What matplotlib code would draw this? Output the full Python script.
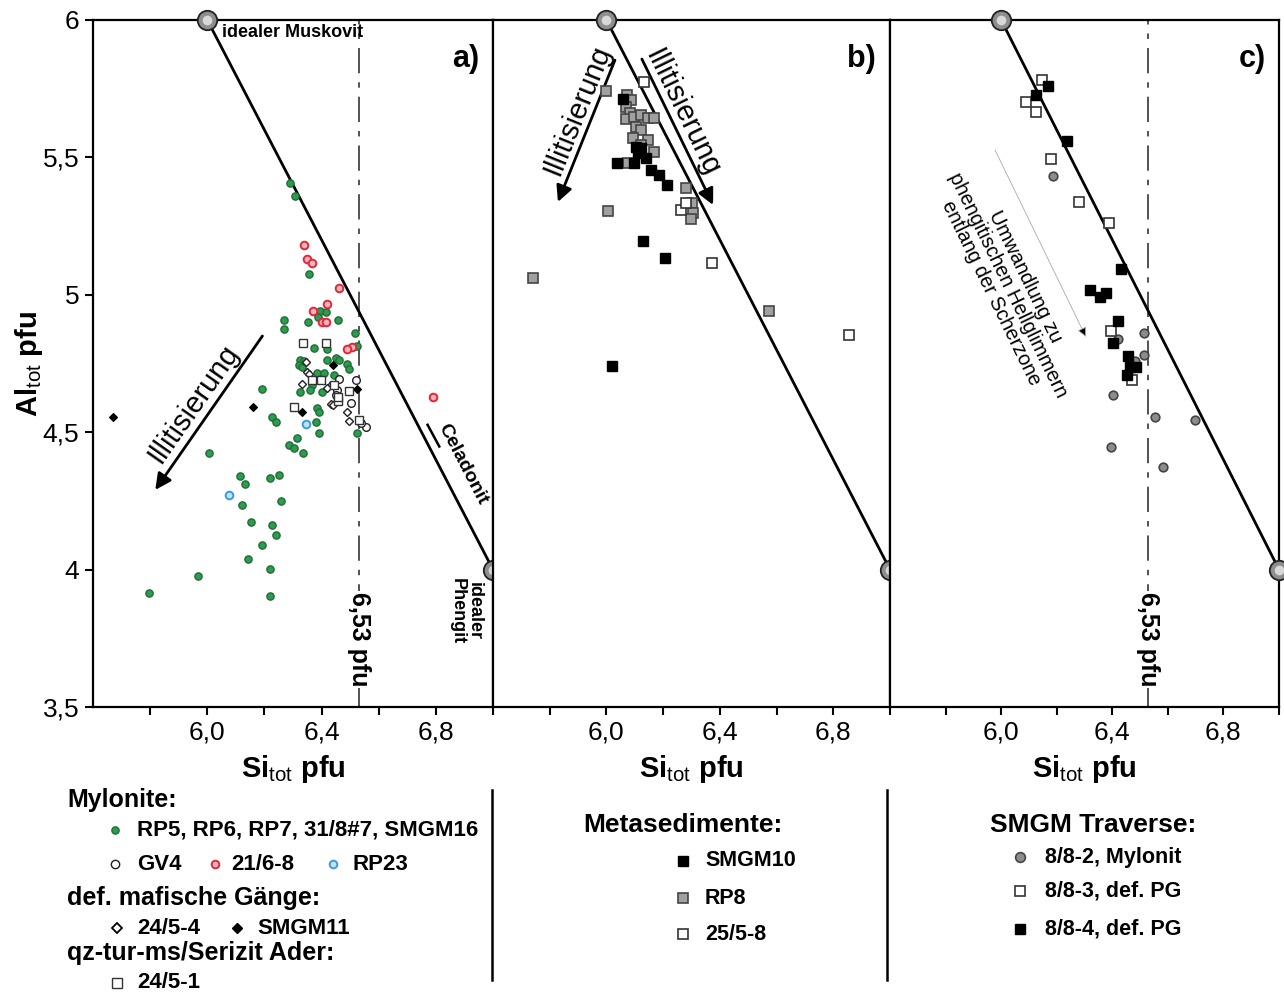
import matplotlib
matplotlib.use('Agg')
import matplotlib.pyplot as plt

plt.rcParams['font.family'] = ['Liberation Sans', 'DejaVu Sans']
plt.rcParams['mathtext.fontset'] = 'custom'
plt.rcParams['mathtext.rm'] = 'Liberation Sans'
plt.rcParams['mathtext.bf'] = 'Liberation Sans:bold'
plt.rcParams['mathtext.it'] = 'Liberation Sans:italic'

# ---------------- data ----------------
# panel a
green_si = [6.291, 6.308, 6.357, 6.393, 6.416, 6.388, 6.457, 6.269, 6.269, 6.353, 6.518, 6.523,
            6.373, 6.420, 6.326, 6.320, 6.420, 6.449, 6.461, 6.488, 6.496, 6.385, 6.408, 6.443,
            6.367, 6.361, 6.326, 6.402, 6.192, 6.385, 6.391, 6.379, 6.391, 6.315, 6.227, 6.239,
            6.525, 6.285, 6.303, 6.335, 6.006, 6.116, 6.132, 6.221, 6.252, 6.120, 6.259, 6.152,
            6.226, 6.242, 6.191, 6.144, 6.219, 5.966, 5.797, 6.219, 6.330, 6.338]
green_al = [5.407, 5.361, 5.076, 4.940, 4.937, 4.920, 4.908, 4.909, 4.876, 4.900, 4.862, 4.814,
            4.805, 4.801, 4.763, 4.744, 4.763, 4.769, 4.763, 4.747, 4.729, 4.714, 4.714, 4.708,
            4.672, 4.654, 4.648, 4.648, 4.657, 4.587, 4.575, 4.538, 4.496, 4.478, 4.557, 4.538,
            4.496, 4.453, 4.441, 4.423, 4.425, 4.342, 4.310, 4.333, 4.345, 4.234, 4.248, 4.174,
            4.161, 4.127, 4.089, 4.037, 4.003, 3.978, 3.916, 3.904, 4.739, 4.760]
red_si = [6.338, 6.350, 6.365, 6.460, 6.420, 6.370, 6.400, 6.414, 6.505, 6.488, 6.790]
red_al = [5.182, 5.129, 5.115, 5.025, 4.967, 4.940, 4.902, 4.900, 4.811, 4.802, 4.627]
blue_si = [6.347, 6.077]
blue_al = [4.530, 4.271]
gv4_si = [6.461, 6.519, 6.437, 6.455, 6.449, 6.502, 6.554, 6.537]
gv4_al = [4.692, 4.690, 4.672, 4.654, 4.635, 4.607, 4.520, 4.532]
d2454_si = [6.344, 6.350, 6.356, 6.332, 6.420, 6.432, 6.441, 6.488, 6.496]
d2454_al = [4.754, 4.720, 4.710, 4.674, 4.660, 4.603, 4.599, 4.575, 4.541]
smgm11_si = [6.441, 6.523, 6.332, 6.160, 5.669]
smgm11_al = [4.744, 4.656, 4.575, 4.593, 4.557]
s2451_si = [6.335, 6.414, 6.365, 6.397, 6.443, 6.497, 6.457, 6.457, 6.303, 6.531]
s2451_al = [4.823, 4.826, 4.690, 4.690, 4.672, 4.650, 4.614, 4.629, 4.593, 4.544]

# panel b
rp8_si = [5.999, 6.072, 6.087, 6.069, 6.083, 6.069, 6.098, 6.122, 6.145, 6.168, 6.104, 6.122,
          6.092, 6.145, 6.122, 6.168, 6.075, 6.280, 6.005, 6.303, 6.307, 6.297, 5.740, 6.574]
rp8_al = [5.743, 5.727, 5.709, 5.685, 5.663, 5.639, 5.648, 5.654, 5.642, 5.642, 5.612, 5.600,
          5.569, 5.563, 5.545, 5.521, 5.478, 5.387, 5.306, 5.333, 5.296, 5.275, 5.060, 4.941]
smgm10_si = [6.057, 6.104, 6.122, 6.139, 6.098, 6.036, 6.157, 6.186, 6.215, 6.128, 6.205, 6.020, 6.112]
smgm10_al = [5.711, 5.539, 5.533, 5.497, 5.481, 5.481, 5.454, 5.436, 5.400, 5.197, 5.133, 4.741, 5.515]
s2558_si = [6.133, 6.262, 6.280, 6.373, 6.855]
s2558_al = [5.776, 5.309, 5.333, 5.115, 4.853]

# panel c
t882_si = [6.185, 6.420, 6.515, 6.515, 6.483, 6.402, 6.553, 6.699, 6.396, 6.581]
t882_al = [5.432, 4.840, 4.862, 4.780, 4.760, 4.635, 4.557, 4.544, 4.447, 4.375]
t883_si = [6.147, 6.090, 6.125, 6.179, 6.279, 6.387, 6.395, 6.472]
t883_al = [5.782, 5.700, 5.666, 5.493, 5.339, 5.260, 4.869, 4.690]
t884_si = [6.167, 6.125, 6.237, 6.431, 6.321, 6.357, 6.377, 6.419, 6.402, 6.456, 6.465, 6.486, 6.453]
t884_al = [5.761, 5.727, 5.560, 5.093, 5.017, 4.991, 5.008, 4.906, 4.823, 4.777, 4.738, 4.738, 4.708]

# end members / reference lines
musk = (6.0, 6.0)
pheng = (7.0, 4.0)
si_limit = 6.53
xticks = [5.8, 6.0, 6.2, 6.4, 6.6, 6.8, 7.0]
xticklabels = ['', '6,0', '', '6,4', '', '6,8', '']
yticks = [3.5, 4.0, 4.5, 5.0, 5.5, 6.0]
yticklabels = ['3,5', '4', '4,5', '5', '5,5', '6']

# ---------------- figure ----------------
W, H = 1284, 992
fig = plt.figure(figsize=(W / 100, H / 100), dpi=100)


def px_axes(x0, x1, y0, y1):
    return [x0 / W, 1 - y1 / H, (x1 - x0) / W, (y1 - y0) / H]


axa = fig.add_axes(px_axes(93, 493, 20, 707))
axb = fig.add_axes(px_axes(493, 890, 20, 707))
axc = fig.add_axes(px_axes(890, 1279, 20, 707))

xlab = r'$\mathbf{Si}_{\mathrm{tot}}\ \mathbf{pfu}$'
for ax, lab in zip([axa, axb, axc], ['a)', 'b)', 'c)']):
    ax.set_xlim(5.6, 7.0)
    ax.set_ylim(3.5, 6.0)
    ax.set_xticks(xticks)
    ax.set_xticklabels(xticklabels, fontsize=19)
    ax.set_yticks(yticks)
    ax.set_yticklabels(yticklabels, fontsize=19)
    ax.tick_params(direction='out', length=6, width=1.5, pad=4)
    for s in ax.spines.values():
        s.set_linewidth(1.6)
    ax.set_xlabel(xlab, fontsize=21, labelpad=6)
    ax.text(0.965, 0.965, lab, transform=ax.transAxes, ha='right', va='top',
            fontsize=22, fontweight='bold')
    if ax is not axa:
        ax.plot([musk[0], pheng[0]], [musk[1], pheng[1]], color='k', lw=2, zorder=3)
    for (bx, by) in [musk, pheng]:
        ax.plot(bx, by, 'o', ms=14, mfc='#8e8e8e', mec='#222222', mew=1.3, clip_on=False, zorder=10)
        ax.plot(bx, by, 'o', ms=7, mfc='#d8d8d8', mec='none', clip_on=False, zorder=11)

axa.set_ylabel(r'$\mathbf{Al}_{\mathrm{tot}}\ \mathbf{pfu}$', fontsize=21)
axa.yaxis.set_label_coords(-0.12, 0.5)
for ax in [axb, axc]:
    ax.tick_params(axis='y', left=False, labelleft=False)

dash = (0, (14, 5, 3, 5))
for ax in [axa, axc]:
    ax.axvline(si_limit, color='#444444', lw=1.3, linestyle=dash, zorder=1)
    ax.text(si_limit, 3.745, '6,53 pfu', rotation=-90, ha='center', va='center',
            fontsize=18, fontweight='bold', zorder=12,
            bbox=dict(facecolor='white', edgecolor='none', pad=1))

# ---- panel a ----
axa.annotate('', xy=(7.085, 3.83), xytext=musk, annotation_clip=False,
             arrowprops=dict(arrowstyle='-|>', lw=2, color='k', mutation_scale=24,
                             shrinkA=0, shrinkB=0), zorder=3)
axa.text(6.053, 5.953, 'idealer Muskovit', ha='left', va='center', fontsize=13, fontweight='bold')
axa.text(6.905, 3.97, 'idealer\nPhengit', rotation=-90, ha='center', va='top',
         fontsize=13, fontweight='bold', linespacing=1.0)
axa.text(6.895, 4.385, 'Celadonit', rotation=-62.6, ha='center', va='center',
         fontsize=14, fontweight='bold')
axa.plot([6.771, 6.812], [4.527, 4.448], color='k', lw=1.8)
axa.annotate('', xy=(5.818, 4.290), xytext=(6.193, 4.850),
             arrowprops=dict(arrowstyle='-|>', lw=2, color='k', mutation_scale=24,
                             shrinkA=0, shrinkB=0))
axa.text(5.951, 4.603, 'Illitisierung', rotation=55, ha='center', va='center', fontsize=21)

mk = dict(ls='none', zorder=5)
axa.plot(green_si, green_al, marker='o', ms=5.2, mfc='#2f9a50', mec='#1d6e36', mew=1.0, **mk)
axa.plot(red_si, red_al, marker='o', ms=5.5, mfc='#f6b3b8', mec='#e0283a', mew=1.4, **mk)
axa.plot(blue_si, blue_al, marker='o', ms=5.5, mfc='#bfe3fb', mec='#3b9be0', mew=1.4, **mk)
axa.plot(gv4_si, gv4_al, marker='o', ms=5.5, mfc='white', mec='#222222', mew=1.0, **mk)
axa.plot(d2454_si, d2454_al, marker='D', ms=4.2, mfc='white', mec='#222222', mew=1.0, **mk)
axa.plot(smgm11_si, smgm11_al, marker='D', ms=4.0, mfc='black', mec='black', mew=0.8, **mk)
axa.plot(s2451_si, s2451_al, marker='s', ms=5.5, mfc='white', mec='#333333', mew=1.0, **mk)

# ---- panel b ----
for (x0, y0, x1, y1) in [(6.030, 5.854, 5.829, 5.338), (6.125, 5.858, 6.376, 5.327)]:
    axb.annotate('', xy=(x1, y1), xytext=(x0, y0),
                 arrowprops=dict(arrowstyle='-|>', lw=2, color='k', mutation_scale=24,
                                 shrinkA=0, shrinkB=0))
axb.text(5.896, 5.672, 'Illitisierung', rotation=68, ha='center', va='center', fontsize=21)
axb.text(6.266, 5.662, 'Illitisierung', rotation=-64, ha='center', va='center', fontsize=21)
axb.plot(rp8_si, rp8_al, marker='s', ms=7.5, mfc='#a0a0a0', mec='#444444', mew=1.2, **mk)
axb.plot(smgm10_si, smgm10_al, marker='s', ms=7.5, mfc='black', mec='black', mew=1.0, **mk)
axb.plot(s2558_si, s2558_al, marker='s', ms=7.5, mfc='white', mec='#333333', mew=1.2, **mk)

# ---- panel c ----
axc.annotate('', xy=(6.305, 4.847), xytext=(5.978, 5.527),
             arrowprops=dict(arrowstyle='-|>', lw=0.6, color='#aaaaaa', mutation_scale=14,
                             shrinkA=0, shrinkB=0, fc='black', ec='#aaaaaa'))
axc.text(6.025, 5.036, 'Umwandlung zu\nphengitischen Hellglimmern\nentlang der Scherzone',
         rotation=-64, ha='center', va='center', fontsize=14.5, linespacing=1.0,
         multialignment='center')
axc.plot(t882_si, t882_al, marker='o', ms=6.2, mfc='#8c8c8c', mec='#444444', mew=1.2, **mk)
axc.plot(t883_si, t883_al, marker='s', ms=6.8, mfc='white', mec='#333333', mew=1.2, **mk)
axc.plot(t884_si, t884_al, marker='s', ms=7.2, mfc='black', mec='black', mew=1.0, **mk)

# ---------------- legend area ----------------
lg = fig.add_axes([0, 0, 1, 1], zorder=-1)
lg.set_xlim(0, W)
lg.set_ylim(H, 0)
lg.axis('off')
lg.patch.set_alpha(0)

hd = dict(fontsize=18, fontweight='bold', va='center', ha='left')
lb = dict(fontsize=16, fontweight='bold', va='center', ha='left')
lg.text(67, 800, 'Mylonite:', **hd)
lg.plot(115, 830, 'o', ms=5.2, mfc='#2f9a50', mec='#1d6e36', mew=1.0)
lg.text(137, 830, 'RP5, RP6, RP7, 31/8#7, SMGM16', **lb)
lg.plot(115, 864, 'o', ms=6, mfc='white', mec='#222222', mew=1.0)
lg.text(137, 864, 'GV4', **lb)
lg.plot(215, 864, 'o', ms=5.5, mfc='#f6b3b8', mec='#e0283a', mew=1.4)
lg.text(231, 864, '21/6-8', **lb)
lg.plot(333, 864, 'o', ms=5.5, mfc='#bfe3fb', mec='#3b9be0', mew=1.4)
lg.text(352, 864, 'RP23', **lb)
lg.text(67, 898, 'def. mafische Gänge:', **hd)
lg.plot(117, 928, 'D', ms=5.5, mfc='white', mec='black', mew=1.3)
lg.text(137, 928, '24/5-4', **lb)
lg.plot(237, 928, 'D', ms=5.5, mfc='black', mec='black', mew=1.0)
lg.text(257, 928, 'SMGM11', **lb)
lg.text(67, 953, 'qz-tur-ms/Serizit Ader:', **hd)
lg.plot(117, 983, 's', ms=6.5, mfc='white', mec='#333333', mew=1.0)
lg.text(137, 983, '24/5-1', **lb)

hn = dict(fontsize=19, fontweight='bold', va='center', ha='left')
ln = dict(fontsize=15.5, fontweight='bold', va='center', ha='left')
lg.text(583, 825, 'Metasedimente:', **hn)
lg.plot(683, 861, 's', ms=7, mfc='black', mec='black')
lg.text(705, 861, 'SMGM10', **ln)
lg.plot(683, 898, 's', ms=7, mfc='#a0a0a0', mec='#444444', mew=1.2)
lg.text(705, 898, 'RP8', **ln)
lg.plot(683, 934, 's', ms=7, mfc='white', mec='#333333', mew=1.2)
lg.text(705, 934, '25/5-8', **ln)

lg.text(990, 825, 'SMGM Traverse:', **hn)
lg.plot(1020, 857, 'o', ms=7, mfc='#8c8c8c', mec='#444444', mew=1.2)
lg.text(1045, 857, '8/8-2, Mylonit', **ln)
lg.plot(1020, 891, 's', ms=7, mfc='white', mec='#333333', mew=1.2)
lg.text(1045, 891, '8/8-3, def. PG', **ln)
lg.plot(1020, 929, 's', ms=7, mfc='black', mec='black')
lg.text(1045, 929, '8/8-4, def. PG', **ln)

lg.plot([492, 492], [790, 980], color='k', lw=1.8)
lg.plot([887, 887], [790, 980], color='k', lw=1.8)

fig.savefig('out.png', dpi=100)
